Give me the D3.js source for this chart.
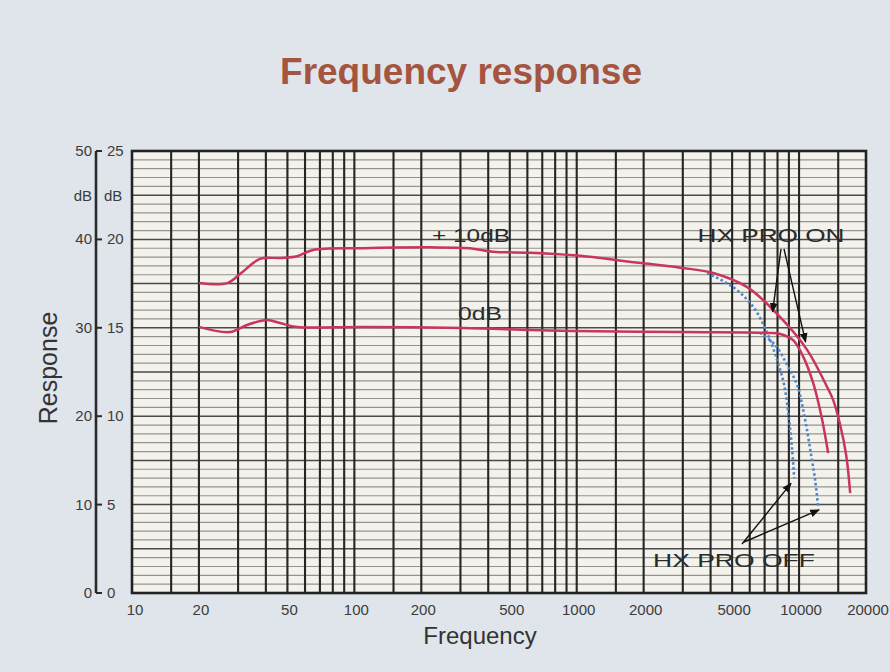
<!DOCTYPE html>
<html><head><meta charset="utf-8">
<script src="https://cdn.jsdelivr.net/npm/d3@7"></script>
<style>html,body{margin:0;padding:0;background:#dfe5ea;}svg{display:block;}</style>
</head><body>
<svg id="chart" width="890" height="672"></svg>
<script>
// ---- data ----
const xTickValues = [10, 20, 50, 100, 200, 500, 1000, 2000, 5000, 10000, 20000];
const yLeftTicks = [0, 10, 20, 30, 40, 50];
const yRightTicks = [0, 5, 10, 15, 20, 25];

const freqPlus10On = [20, 26.8, 31, 37.6, 46.3, 55.3, 65.2, 109, 219, 330, 420, 617, 973, 1850, 2918, 4110, 5845, 8225, 10870, 13370, 14230, 15310, 16290, 16980];
const plus10On     = [17.53, 17.53, 18.1, 18.9, 18.95, 19.05, 19.4, 19.5, 19.55, 19.5, 19.3, 19.25, 19.1, 18.7, 18.4, 18.1, 17.3, 15.6, 13.75, 11.65, 10.92, 9.5, 7.8, 5.65];

const freqZeroOn = [20, 27.6, 32.9, 40.5, 46.3, 55.3, 109, 308, 617, 973, 2918, 7414, 8225, 9400, 10500, 11570, 12570, 13520];
const zeroOn     = [15.05, 14.76, 15.16, 15.44, 15.27, 15.05, 15.05, 14.99, 14.88, 14.82, 14.76, 14.71, 14.65, 14.3, 13.3, 11.88, 10.07, 7.92];

const freqPlus10Off = [3860, 5055, 6220, 7190, 7965, 8570, 9020, 9310, 9510];
const plus10Off     = [18.1, 17.3, 16.18, 14.71, 13.18, 11.76, 9.79, 8.09, 6.5];

const freqZeroOff = [6683, 7802, 8838, 9800, 10650, 11330, 11810, 12190];
const zeroOff     = [14.71, 14.03, 12.9, 11.76, 9.79, 7.81, 6.39, 4.86];

// ---- layout ----
const svg = d3.select("#chart");
const L = 132, R = 866, T = 151, B = 593;
const x = d3.scaleLog().domain([10, 20000]).range([L, R]);
const y = d3.scaleLinear().domain([0, 25]).range([B, T]);
const yLeft = d3.scaleLinear().domain([0, 50]).range([B, T]);
const FONT = "Liberation Sans, Arial, sans-serif";

svg.append("rect").attr("width", 890).attr("height", 672).attr("fill", "#dfe5ea");

// title
svg.append("text").attr("x", 461).attr("y", 84).attr("text-anchor", "middle")
  .attr("font-family", FONT).attr("font-weight", "bold")
  .attr("font-size", 37).attr("fill", "#a5553f").text("Frequency response");

// plot background
svg.append("rect").attr("x", L).attr("y", T).attr("width", R - L).attr("height", B - T).attr("fill", "#f4f2ec");

// horizontal grid (every 0.5 dB)
const hLines = d3.range(0.5, 25, 0.5);
svg.append("g").selectAll("line").data(hLines).join("line")
  .attr("x1", L).attr("x2", R).attr("y1", d => y(d)).attr("y2", d => y(d))
  .attr("stroke", d => (d % 2.5 === 0) ? "#4a4a4a" : "#96938b")
  .attr("stroke-width", d => (d % 2.5 === 0) ? 1.5 : 1.2);

// vertical grid (1,1.5,2..9 per decade)
const vLines = [];
[10, 100, 1000, 10000].forEach(dec => {
  [1, 1.5, 2, 3, 4, 5, 6, 7, 8, 9].forEach(m => { const v = dec * m; if (v > 10 && v < 20000) vLines.push(v); });
});
svg.append("g").selectAll("line").data(vLines).join("line")
  .attr("x1", d => x(d)).attr("x2", d => x(d)).attr("y1", T).attr("y2", B)
  .attr("stroke", "#262626").attr("stroke-width", 2.1);

// frame
svg.append("rect").attr("x", L).attr("y", T).attr("width", R - L).attr("height", B - T)
  .attr("fill", "none").attr("stroke", "#222").attr("stroke-width", 2.6);

// x tick labels
svg.append("g").selectAll("text").data(xTickValues).join("text")
  .attr("x", d => x(d) + (d === 10 ? 3 : 2)).attr("y", 615).attr("text-anchor", "middle")
  .attr("font-family", FONT).attr("font-size", 15)
  .attr("fill", "#3c3c3c").text(d => d);

// left double axis
const ax = 96;
svg.append("line").attr("x1", ax).attr("x2", ax).attr("y1", yLeft(50)).attr("y2", yLeft(0))
  .attr("stroke", "#2a2a2a").attr("stroke-width", 2.6);
svg.append("g").selectAll("line").data(yLeftTicks).join("line")
  .attr("x1", ax).attr("x2", ax + 6).attr("y1", d => yLeft(d)).attr("y2", d => yLeft(d))
  .attr("stroke", "#2a2a2a").attr("stroke-width", 2);
svg.append("g").selectAll("text").data(yLeftTicks).join("text")
  .attr("x", ax - 4).attr("y", d => yLeft(d) + 5).attr("text-anchor", "end")
  .attr("font-family", FONT).attr("font-size", 15)
  .attr("fill", "#3c3c3c").text(d => d);
svg.append("g").selectAll("text").data(yRightTicks).join("text")
  .attr("x", ax + 11).attr("y", d => y(d) + 5).attr("text-anchor", "start")
  .attr("font-family", FONT).attr("font-size", 15)
  .attr("fill", "#3c3c3c").text(d => d);
svg.append("text").attr("x", ax - 4).attr("y", y(22.45) + 5).attr("text-anchor", "end")
  .attr("font-family", FONT).attr("font-size", 15).attr("fill", "#3c3c3c").text("dB");
svg.append("text").attr("x", ax + 8).attr("y", y(22.45) + 5).attr("text-anchor", "start")
  .attr("font-family", FONT).attr("font-size", 15).attr("fill", "#3c3c3c").text("dB");

// axis titles
svg.append("text").attr("x", 480).attr("y", 644).attr("text-anchor", "middle")
  .attr("font-family", FONT).attr("font-size", 24)
  .attr("fill", "#333").text("Frequency");
svg.append("text").attr("transform", "translate(57,368) rotate(-90)").attr("text-anchor", "middle")
  .attr("font-family", FONT).attr("font-size", 25)
  .attr("fill", "#333").text("Response");

// curves
const line = d3.line().x(d => x(d[0])).y(d => y(d[1])).curve(d3.curveCatmullRom.alpha(0.5));
const zip = (f, v) => f.map((d, i) => [d, v[i]]);
const red = "#c8365c", blue = "#4f86c9";
svg.append("path").datum(zip(freqPlus10Off, plus10Off)).attr("d", line)
  .attr("fill", "none").attr("stroke", blue).attr("stroke-width", 2.6).attr("stroke-dasharray", "2.5,2.5");
svg.append("path").datum(zip(freqZeroOff, zeroOff)).attr("d", line)
  .attr("fill", "none").attr("stroke", blue).attr("stroke-width", 2.6).attr("stroke-dasharray", "2.5,2.5");
svg.append("path").datum(zip(freqPlus10On, plus10On)).attr("d", line)
  .attr("fill", "none").attr("stroke", red).attr("stroke-width", 2.5);
svg.append("path").datum(zip(freqZeroOn, zeroOn)).attr("d", line)
  .attr("fill", "none").attr("stroke", red).attr("stroke-width", 2.5);

// annotations
const defs = svg.append("defs");
defs.append("marker").attr("id", "ah").attr("viewBox", "0 0 10 10").attr("refX", 9).attr("refY", 5)
  .attr("markerWidth", 7).attr("markerHeight", 7).attr("orient", "auto")
  .append("path").attr("d", "M0,1 L10,5 L0,9 Z").attr("fill", "#111");

function label(txt, cx, by, w, size) {
  svg.append("text").attr("x", cx - w / 2).attr("y", by)
    .attr("textLength", w).attr("lengthAdjust", "spacingAndGlyphs")
    .attr("font-family", FONT).attr("font-size", size)
    .attr("fill", "#2a2a2a").text(txt);
}
label("+ 10dB", 471, 242, 78, 19);
label("0dB", 480, 320, 44, 19);
label("HX PRO ON", 771, 242, 147, 19);
label("HX PRO OFF", 734, 567, 162, 19);

function arrow(x1, y1, x2, y2) {
  svg.append("line").attr("x1", x1).attr("y1", y1).attr("x2", x2).attr("y2", y2)
    .attr("stroke", "#111").attr("stroke-width", 1.4).attr("marker-end", "url(#ah)");
}
arrow(781, 249, x(7600), y(15.9));
arrow(784, 249, x(10700), y(14.2));
arrow(742, 544, x(9200), y(6.2));
arrow(744, 542, x(12300), y(4.7));
</script>
</body></html>
